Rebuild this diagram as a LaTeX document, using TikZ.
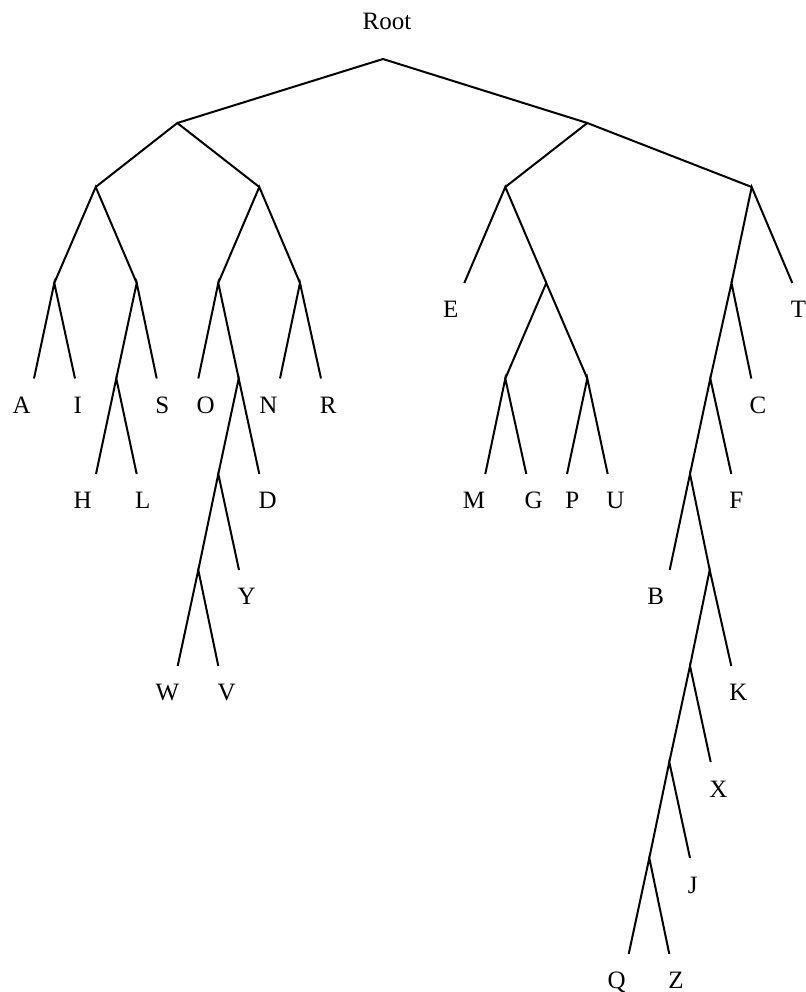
\documentclass[tikz,border=0pt]{standalone}
\usepackage{fontspec}
\setmainfont{Liberation Serif}
\begin{document}
\begin{tikzpicture}[x=0.5pt,y=-0.5pt,
  edge/.style={line width=1pt, line join=miter},
  lbl/.style={anchor=base, inner sep=0pt, font=\fontsize{12.5}{15}\selectfont}]
\useasboundingbox (0,0) rectangle (806,992);

% internal branch points
\coordinate (r)   at (383,59);
\coordinate (n1a) at (177.3,123);
\coordinate (n1b) at (587.3,123);
\coordinate (n2a) at (95.7,187);
\coordinate (n2b) at (259.3,187);
\coordinate (n2c) at (505.3,187);
\coordinate (n2d) at (751.7,187);
\coordinate (n3a) at (54.3,283);
\coordinate (n3b) at (136.7,283);
\coordinate (n3c) at (218.3,283);
\coordinate (n3d) at (300,283);
\coordinate (n3e) at (546.3,283);
\coordinate (n3f) at (731.5,283);
\coordinate (n4a) at (116.3,378.5);
\coordinate (n4b) at (238.7,378.5);
\coordinate (n4c) at (505.3,378.5);
\coordinate (n4d) at (587.3,378.5);
\coordinate (n4e) at (710.3,378.5);
\coordinate (n5a) at (218.3,474);
\coordinate (n5b) at (690,474);
\coordinate (n6a) at (198.3,570);
\coordinate (n6b) at (709.7,570);
\coordinate (n7)  at (690,666);
\coordinate (n8)  at (669.3,762);
\coordinate (n9)  at (649.3,858);

% leaf branch ends
\coordinate (eE) at (464.3,283);
\coordinate (eT) at (792.3,283);
\coordinate (eA) at (34,378.5);
\coordinate (eI) at (75,378.5);
\coordinate (eS) at (156.7,378.5);
\coordinate (eO) at (198.3,378.5);
\coordinate (eN) at (280,378.5);
\coordinate (eR) at (321,378.5);
\coordinate (eC) at (751.3,378.5);
\coordinate (eH) at (96,474);
\coordinate (eL) at (136.7,474);
\coordinate (eD) at (259.3,474);
\coordinate (eM) at (485.3,474);
\coordinate (eG) at (526.3,474);
\coordinate (eP) at (567,474);
\coordinate (eU) at (607.7,474);
\coordinate (eF) at (731.3,474);
\coordinate (eY) at (239,570);
\coordinate (eB) at (669.7,570);
\coordinate (eW) at (177.7,666);
\coordinate (eV) at (218.3,666);
\coordinate (eK) at (731.3,666);
\coordinate (eX) at (710.7,762);
\coordinate (eJ) at (690,858);
\coordinate (eQ) at (628.7,954);
\coordinate (eZ) at (669.3,954);

% branches
\draw[edge] (n1a) -- (r) -- (n1b);
\draw[edge] (n2a) -- (n1a) -- (n2b);
\draw[edge] (n2c) -- (n1b) -- (n2d);
\draw[edge] (n3a) -- (n2a) -- (n3b);
\draw[edge] (n3c) -- (n2b) -- (n3d);
\draw[edge] (eE) -- (n2c) -- (n3e);
\draw[edge] (n3f) -- (n2d) -- (eT);
\draw[edge] (eA) -- (n3a) -- (eI);
\draw[edge] (n4a) -- (n3b) -- (eS);
\draw[edge] (eO) -- (n3c) -- (n4b);
\draw[edge] (eN) -- (n3d) -- (eR);
\draw[edge] (n4c) -- (n3e) -- (n4d);
\draw[edge] (n4e) -- (n3f) -- (eC);
\draw[edge] (eH) -- (n4a) -- (eL);
\draw[edge] (n5a) -- (n4b) -- (eD);
\draw[edge] (eM) -- (n4c) -- (eG);
\draw[edge] (eP) -- (n4d) -- (eU);
\draw[edge] (n5b) -- (n4e) -- (eF);
\draw[edge] (n6a) -- (n5a) -- (eY);
\draw[edge] (eB) -- (n5b) -- (n6b);
\draw[edge] (eW) -- (n6a) -- (eV);
\draw[edge] (n7) -- (n6b) -- (eK);
\draw[edge] (n8) -- (n7) -- (eX);
\draw[edge] (n9) -- (n8) -- (eJ);
\draw[edge] (eQ) -- (n9) -- (eZ);

% labels
\node[lbl] (root) at (387,29.3) {Root};
\node[lbl] (E) at (450.7,317.5) {E};
\node[lbl] (T) at (798.6,317.5) {T};
\node[lbl] (A) at (21.7,413.3) {A};
\node[lbl] (I) at (77.7,413.3) {I};
\node[lbl] (S) at (162.3,413.3) {S};
\node[lbl] (O) at (205.7,413.3) {O};
\node[lbl] (N) at (268.3,413.3) {N};
\node[lbl] (R) at (328.3,413.3) {R};
\node[lbl] (C) at (758,413.3) {C};
\node[lbl] (H) at (82.7,508.3) {H};
\node[lbl] (L) at (142.7,508.3) {L};
\node[lbl] (D) at (267.7,508.3) {D};
\node[lbl] (M) at (474,508.3) {M};
\node[lbl] (G) at (533.7,508.3) {G};
\node[lbl] (P) at (572.3,508.3) {P};
\node[lbl] (U) at (615.3,508.3) {U};
\node[lbl] (F) at (736.3,508.3) {F};
\node[lbl] (Y) at (246.7,604.5) {Y};
\node[lbl] (B) at (655.7,604.5) {B};
\node[lbl] (W) at (167.3,700.3) {W};
\node[lbl] (V) at (226.7,700.3) {V};
\node[lbl] (K) at (738.5,700.3) {K};
\node[lbl] (X) at (718.3,797.3) {X};
\node[lbl] (J) at (692.7,893.3) {J};
\node[lbl] (Q) at (616.7,988.3) {Q};
\node[lbl] (Z) at (676,988.3) {Z};
\end{tikzpicture}
\end{document}
